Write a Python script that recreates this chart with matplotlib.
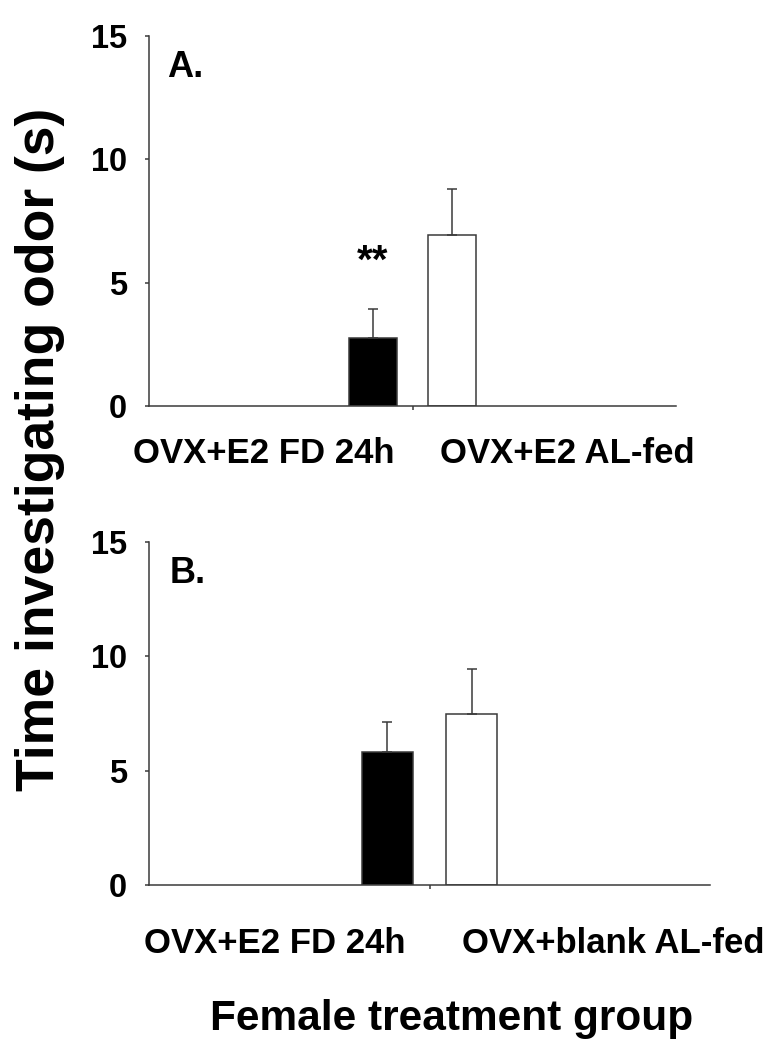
import matplotlib
matplotlib.use("Agg")
import matplotlib.pyplot as plt

plt.rcParams['font.family'] = ['Liberation Sans', 'DejaVu Sans']

# Data
groups_a = ["OVX+E2 FD 24h", "OVX+E2 AL-fed"]
means_a = [2.75, 6.93]
sem_a = [1.17, 1.87]

groups_b = ["OVX+E2 FD 24h", "OVX+blank AL-fed"]
means_b = [5.80, 7.46]
sem_b = [1.34, 2.00]

bar_colors = ["black", "white"]
yticks = [0, 5, 10, 15]
sig_a = "**"

W, H = 782, 1048
fig = plt.figure(figsize=(W / 100, H / 100), dpi=100)

edge = "#3a3a3a"
lw = 1.1


def make_axes(rect, means, sems, labels, label_centers, label_base, panel, panel_xy):
    ax = fig.add_axes(rect)
    xpos = [0.85, 1.15]
    ax.bar(xpos, means, width=0.18, color=bar_colors, edgecolor=edge, linewidth=lw, zorder=2)
    ax.errorbar(xpos, means, yerr=[[0, 0], sems], fmt='none', ecolor=edge,
                elinewidth=lw, capsize=3.6, capthick=lw, zorder=3)
    ax.set_xlim(0, 2)
    ax.set_ylim(0, 15)
    ax.set_yticks(yticks)
    ax.set_yticklabels([str(t) for t in yticks], fontsize=23.5, fontweight='bold')
    ax.set_xticks([1])
    ax.set_xticklabels([""])
    for s in ["top", "right"]:
        ax.spines[s].set_visible(False)
    for s in ["left", "bottom"]:
        ax.spines[s].set_color(edge)
        ax.spines[s].set_linewidth(lw)
    ax.tick_params(axis='y', direction='out', length=3, width=lw, color=edge, pad=13)
    ax.tick_params(axis='x', direction='out', length=3, width=lw, color=edge)
    for lab, cx in zip(labels, label_centers):
        fig.text(cx / W, 1 - label_base / H, lab, ha='center', va='baseline',
                 fontsize=25, fontweight='bold')
    fig.text(panel_xy[0] / W, 1 - panel_xy[1] / H, panel, ha='left', va='baseline',
             fontsize=26, fontweight='bold')
    return ax


def rect_from_px(left, right, y0, y15):
    return [left / W, 1 - y0 / H, (right - left) / W, (y0 - y15) / H]


ax_a = make_axes(rect_from_px(149, 676, 406, 36), means_a, sem_a, groups_a,
                 [263.5, 567], 463, "A.", (167, 77))
ax_a.text(0.85, 5.86, sig_a, ha='center', va='center', fontsize=29, fontweight='bold')

ax_b = make_axes(rect_from_px(149, 710, 885, 542), means_b, sem_b, groups_b,
                 [275, 613.5], 953, "B.", (170, 583))

fig.text(40 / W, 1 - 449 / H, "Time investigating odor (s)", rotation=90,
         ha='center', va='center', fontsize=38.5, fontweight='bold')
fig.text(452 / W, 1 - 1030 / H, "Female treatment group", ha='center', va='baseline',
         fontsize=30.5, fontweight='bold')

fig.savefig("out.png", dpi=100)
